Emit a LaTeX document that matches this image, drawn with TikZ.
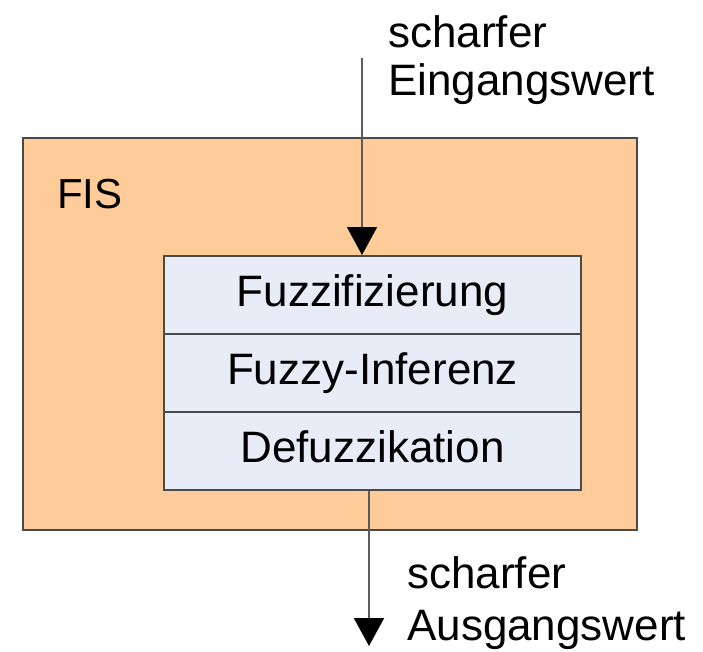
\documentclass[tikz,border=0pt]{standalone}
\usepackage{fontspec}
\setmainfont{Liberation Sans}
\usetikzlibrary{arrows.meta}
\definecolor{fisorange}{HTML}{FFCC99}
\definecolor{rowblue}{HTML}{E8ECF6}
\definecolor{edgegray}{HTML}{4A4A4A}
\begin{document}
\begin{tikzpicture}[x=1pt,y=-1pt,
  lbl/.style={font=\fontsize{44}{48}\selectfont, inner sep=0pt, anchor=base west},
  rowbox/.style={draw=edgegray, line width=2pt, fill=rowblue, minimum width=417pt, minimum height=78pt,
     inner sep=0pt, text height=32pt, text depth=10pt, font=\fontsize{44}{48}\selectfont},
  flow/.style={draw=edgegray!90, line width=2pt, -{Triangle[width=30pt,length=28pt,fill=black,color=black]}}
]
\useasboundingbox (0,0) rectangle (703,651);
\node[draw=edgegray, line width=2pt, fill=fisorange, minimum width=614pt, minimum height=392pt,
      inner sep=0pt, anchor=north west] (fis) at (22,137) {};
\node[lbl, font=\fontsize{42}{48}\selectfont] (fislbl) at (57,208) {FIS};
\node[rowbox] (r1) at (372.5,295) {Fuzzifizierung};
\node[rowbox] (r2) at (372.5,373) {Fuzzy-Inferenz};
\node[rowbox] (r3) at (372.5,451) {Defuzzikation};
\coordinate (inStart) at (362,58);
\coordinate (outEnd) at (369,646);
\draw[flow] (inStart) -- (inStart |- r1.north);
\draw[flow] (r3.south -| outEnd) -- (outEnd);
\node[lbl] (in1) at (388,47) {scharfer};
\node[lbl] (in2) at (388,95) {Eingangswert};
\node[lbl] (out1) at (407,588) {scharfer};
\node[lbl] (out2) at (407,640) {Ausgangswert};
\end{tikzpicture}
\end{document}
